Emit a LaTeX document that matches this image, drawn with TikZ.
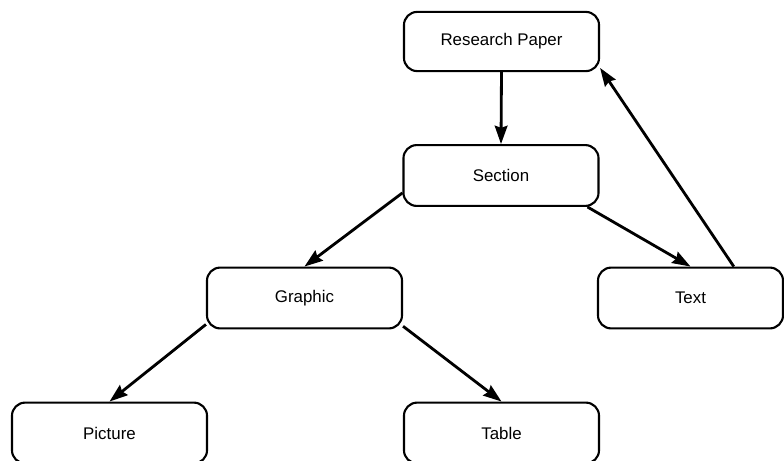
\documentclass[tikz,border=0pt]{standalone}
\usepackage{fontspec}
\setmainfont{Liberation Sans}
\usetikzlibrary{arrows.meta}

\begin{document}
\begin{tikzpicture}[x=0.025cm, y=-0.025cm, >={Stealth[length=13pt,width=9pt,inset=1.5pt]},
    box/.style={draw, line width=1.5pt, rounded corners=0.33cm, minimum width=4.875cm,
        minimum height=1.52cm, inner sep=0pt, font=\fontsize{12}{14}\selectfont},
    link/.style={->, line width=2pt}]
    \useasboundingbox (0,0) rectangle (784,461);

    % boxes, centres in pixels of the page
    \node[box, minimum height=1.48cm] (paper) at (501.5,41.5) {Research Paper};
    \node[box] (section) at (501,175.5) {Section};
    \node[box] (graphic) at (304.5,298) {Graphic};
    \node[box, minimum width=4.625cm] (text) at (690.5,298) {Text};
    \node[box] (picture) at (109.5,433) {Picture};
    \node[box] (table) at (501.5,433) {Table};

    % links
    \draw[link] (paper.south) -- (section.north);
    \draw[link] (section.190) -- (graphic.north);
    \draw[link] (section.340) -- (text.north);
    \draw[link] (text.36) -- (paper.345);
    \draw[link] (graphic.195) -- (picture.north);
    \draw[link] (graphic.344) -- (table.north);
\end{tikzpicture}
\end{document}
